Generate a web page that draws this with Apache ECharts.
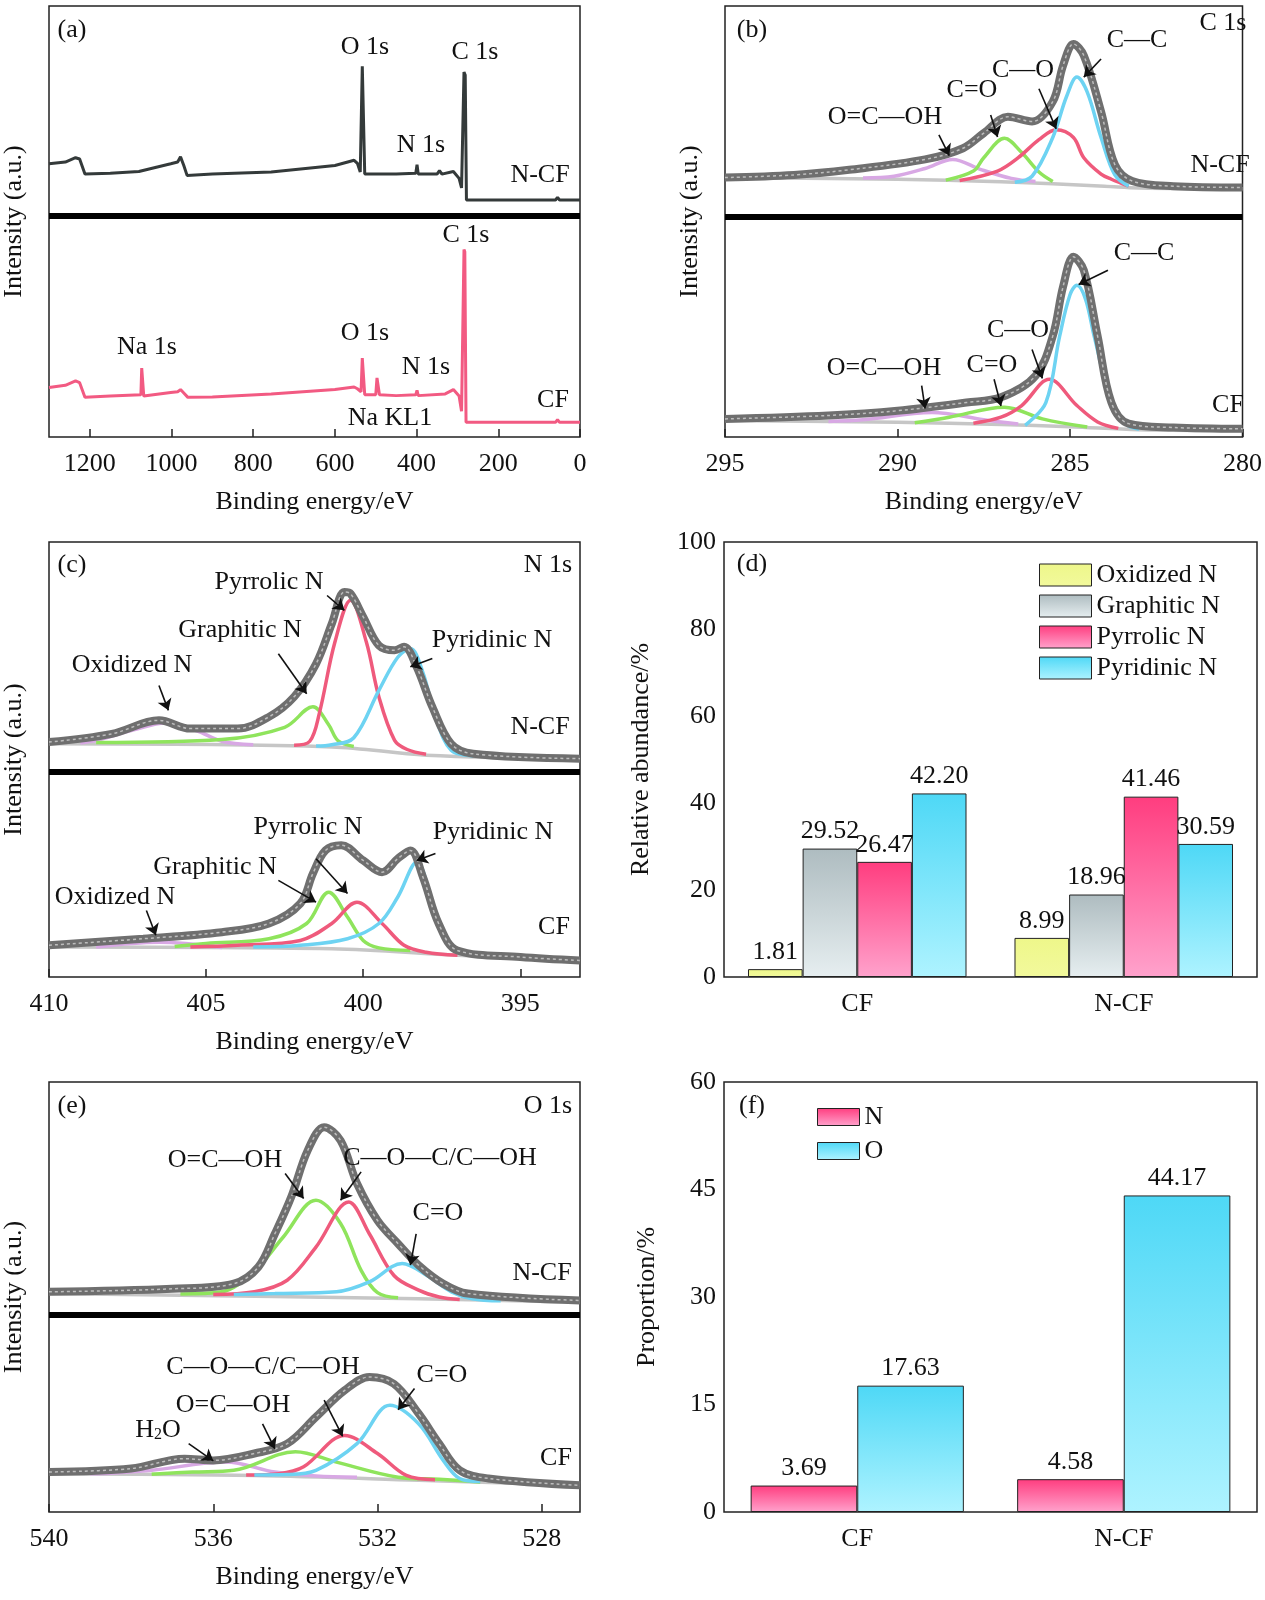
<!DOCTYPE html>
<html>
<head>
<meta charset="utf-8">
<script src="https://cdn.jsdelivr.net/npm/echarts@6/dist/echarts.min.js"></script>
<style>html,body{margin:0;padding:0;background:#fff}#main{width:1265px;height:1600px}</style>
</head>
<body>
<div id="main"></div>
<script>
// ---- (a) survey spectra, [binding energy, relative intensity] ----
var surveyNCF = [[1300,63.4],[1260,63.8],[1235,64.8],[1225,64.5],[1212,61],[1150,61.2],[1080,61.6],[1002,63.4],[985,63.8],[978,65],[970,63],[962,60.7],[900,61],[756,61.5],[600,63],[553,64.2],[545,63.5],[538,61.5],[533,86],[530,86],[527,61],[450,61],[402,61.2],[399,63.2],[396,61],[350,61],[344,61.8],[338,61],[310,61.6],[296,60],[290,57.8],[286,58],[284,84.7],[281,84],[278,55],[200,55],[60,55],[55,55.6],[50,55],[0,55]];
var surveyCF = [[1300,11.5],[1260,12],[1235,13],[1225,12.6],[1212,9.2],[1150,9.5],[1075,9.8],[1073,16],[1070,16],[1068,9.5],[1002,10.3],[985,10.5],[978,11],[970,10.2],[960,9.2],[900,9.3],[756,10],[600,11],[553,11.6],[545,11.2],[536,10.5],[533,18.3],[530,18.3],[527,9.8],[500,9.8],[497,13.7],[494,13.7],[491,9.8],[450,9.6],[402,9.8],[399,10.8],[396,9.6],[330,10],[310,11],[296,9.5],[290,6],[286,6.2],[284,43.5],[282,43],[279,3.4],[200,3.4],[60,3.4],[55,4],[50,3.4],[0,3.4]];

// ---- (b) C 1s ----
var c1sEnvNCF = [[295,60.2],[293,60.8],[291.4,62],[289.2,64.4],[288.1,67],[287.5,70.5],[286.8,74.3],[286.1,73.2],[285.5,77.8],[285.2,86.2],[284.9,91.2],[284.6,88.5],[284.1,75.5],[283.7,63.2],[283.2,59.4],[282,58.2],[280,57.9]];
var c1sBgNCF = [[295,60.2],[290,59.8],[287,59.2],[284,58.2],[283,57.8],[280,57.6]];
var c1sCCNCF = [[286.6,59.1],[286.1,60.5],[285.5,69.5],[285.1,79],[284.8,83.5],[284.5,80],[284.1,69.5],[283.7,60.8],[283.3,58.2]];
var c1sCONCF = [[288.2,59.5],[287.1,61.7],[286.5,64.8],[285.9,69],[285.4,71.3],[284.9,69.5],[284.6,64.8],[284.1,61],[283.8,59.8],[283.3,58.2]];
var c1sCdONCF = [[288.6,59.6],[287.8,61.7],[287.5,64.8],[286.9,69.3],[286.4,66],[285.9,61.5],[285.5,59.3]];
var c1sOCOHNCF = [[291,60.1],[290.1,60.5],[289.2,62.3],[288.4,64.4],[287.6,62.1],[286.7,60],[286,59.3]];
var c1sEnvCF = [[295,4.2],[292,5],[290,6.1],[288,8],[287,9.2],[286,14.2],[285.5,23.4],[285.2,34.9],[284.9,41.8],[284.6,38.7],[284.2,23.4],[283.8,8],[283.3,3.1],[282,2.2],[280,1.9]];
var c1sBgCF = [[295,3.8],[290,3.4],[287,2.9],[285,2.4],[283,1.7],[280,1.5]];
var c1sCCCF = [[286.3,2.7],[285.7,8],[285.3,23.4],[285.0,33],[284.8,35.2],[284.55,32],[284.3,23.4],[283.8,8],[283.4,3.1],[283,1.8]];
var c1sCOCF = [[287.8,3.2],[287,4.6],[286.4,7.3],[285.6,13.4],[284.8,7.3],[284.2,3.5],[283.6,2]];
var c1sCdOCF = [[289.5,3.3],[288.5,4.6],[286.9,6.9],[285.8,4.2],[284.5,2.3]];
var c1sOCOHCF = [[292,3.6],[291,4],[289,5.7],[287.5,4],[286.5,3]];

// ---- (c) N 1s ----
var n1sEnvNCF = [[410,54],[408,55.9],[406.5,59],[405.5,57.1],[404,57.1],[403,59.8],[402.2,64.4],[401.5,72],[401,81.2],[400.6,88.5],[400.4,88.1],[400,82.8],[399.5,76.2],[399,75.1],[398.7,75.9],[398.3,71.3],[397.8,62.1],[397.2,53.6],[396.5,51.3],[393.1,50.2]];
var n1sBgNCF = [[410,53.6],[401,52.9],[398,51],[393.1,50.2]];
var n1sOxNCF = [[409,53.8],[408.5,54.4],[407.3,56.8],[406.3,58.4],[405.3,56.6],[404.5,54.2],[403.5,53.4]];
var n1sGrNCF = [[408.5,53.9],[404.5,54.6],[402.5,57.4],[401.6,62.1],[401.1,58],[400.8,54.3],[400.3,53]];
var n1sPyrNCF = [[402.2,53.3],[401.7,54.2],[401.4,60.5],[400.9,77],[400.4,86.6],[399.9,77],[399.5,64.4],[399,54.4],[398.6,52.3],[398,51.2]];
var n1sPydNCF = [[401.5,53.1],[401,53.4],[400.3,55],[399.5,65.9],[398.9,73.5],[398.5,75.5],[398.1,70],[397.7,59.8],[397.2,52.1],[396.5,50.8]];
var n1sEnvCF = [[410,7.3],[407,8.8],[404.5,10.3],[403,12.3],[402,16.9],[401.6,23.8],[401.2,29.1],[400.7,30.3],[400,26.8],[399.4,24.1],[398.9,27.2],[398.5,29.1],[398.1,23],[397.6,12.3],[397,6.1],[395,4.6],[393.1,3.8]];
var n1sBgCF = [[410,6.9],[401,6.5],[397,5],[393.1,3.8]];
var n1sOxCF = [[408.5,6.9],[406.5,8],[404.5,6.8]];
var n1sGrCF = [[406,7],[405,7.7],[403,8.8],[401.8,12.3],[401.1,19.5],[400.5,13.8],[400,8.4],[399.5,6.7],[398.5,6.1]];
var n1sPyrCF = [[405.5,6.9],[404,7.3],[402,8.4],[401,12.3],[400.2,17.2],[399.4,12.3],[398.7,7.3],[398,5.7],[397,5]];
var n1sPydCF = [[403.5,6.9],[402,7.3],[400.5,8.8],[399.5,12.3],[398.9,18.4],[398.3,26.4],[397.7,14.6],[397.2,6.9],[396.7,5.2]];

// ---- (e) O 1s ----
var o1sEnvNCF = [[540,51.2],[537,51.9],[535.5,53.1],[534.9,57],[534.5,64.7],[534.1,73.3],[533.7,84.1],[533.3,89.5],[532.9,86.4],[532.5,76.4],[532,67.8],[531.5,62.4],[531,57.4],[530.4,53.1],[529.8,50.8],[527.07,49.2]];
var o1sBgNCF = [[540,50.8],[531,49.6],[527.07,48.8]];
var o1sOCOHNCF = [[536.8,50.7],[535.8,51.2],[535,56],[534.3,63.9],[533.5,72.5],[532.9,67.1],[532.4,56.2],[532,51],[531.5,49.8]];
var o1sCOCNCF = [[536,50.6],[535,51.2],[534.2,53.9],[533.5,61.6],[532.7,72.1],[532.2,64.7],[531.6,55.0],[531,51.6],[530.5,50],[530,49.4]];
var o1sCdONCF = [[535.5,50.6],[534.5,50.8],[533,51.2],[532.2,53.5],[531.4,57.8],[530.8,55],[530.2,51.2],[529.7,49.6],[529,49.1]];
var o1sEnvCF = [[540,9.3],[538,10.1],[536.7,12.4],[536,12],[535,13.6],[534.2,15.9],[533.5,22.1],[532.8,28.3],[532.2,31.4],[531.6,29.8],[531,22.9],[530.5,15.9],[530,9.7],[529.3,7.8],[527.07,6.2]];
var o1sBgCF = [[540,8.9],[535,8.5],[531,7.4],[527.07,6.2]];
var o1sH2OCF = [[539,8.9],[538.5,9],[537.5,9.7],[535.7,11.6],[534.5,9.3],[533.5,8.4],[532.5,8.1]];
var o1sOCOHCF = [[537.5,8.8],[536.5,9.3],[535.5,9.7],[534,14],[533,11.6],[531.5,8.1],[530.5,7.6],[529.5,7]];
var o1sCOCCF = [[535.2,8.6],[534.4,8.9],[533.8,10.5],[532.8,17.8],[532,13.6],[531.3,8.5],[530.6,7.5]];
var o1sCdOCF = [[535,8.6],[534.2,8.7],[533.5,9.7],[532.5,15.9],[531.7,24.8],[531,20.5],[530.4,12.0],[530,7.8],[529.5,7.1]];

// ---- (d) N species, (f) N/O proportion ----
var samples = ['CF', 'N-CF'];
var oxidizedN = [1.81, 8.99];
var graphiticN = [29.52, 18.96];
var pyrrolicN = [26.47, 41.46];
var pyridinicN = [42.20, 30.59];
var propN = [3.69, 4.58];
var propO = [17.63, 44.17];

var FONT = 'Liberation Serif';
var FS = 26;
var cEnv = '#7a7a7a', cBg = '#c6c6c6', cCyan = '#6dd3f2', cPink = '#ef5a7c', cGreen = '#8fe45c', cViolet = '#d8a8e4';

function grad(top, bottom) {
    return new echarts.graphic.LinearGradient(0, 0, 0, 1, [{offset: 0, color: top}, {offset: 1, color: bottom}]);
}

var grids = [
    {left: 48, top: 6, width: 532, height: 431},
    {left: 725, top: 6, width: 532, height: 431},
    {left: 48, top: 542, width: 532, height: 435},
    {left: 724, top: 542, width: 533, height: 435},
    {left: 48, top: 1082, width: 532, height: 430},
    {left: 724, top: 1082, width: 533, height: 430}
];
grids.forEach(function (g) { g.show = true; g.borderColor = '#222'; g.borderWidth = 1.5; g.backgroundColor = 'transparent'; });

var axisTxt = {color: '#111', fontFamily: FONT, fontSize: FS};
function plain(v) { return String(v); }
function specX(idx, min, max, vals, interval) {
    var ax = {
        gridIndex: idx, type: 'value', inverse: true, min: min, max: max,
        name: 'Binding energy/eV', nameLocation: 'middle', nameGap: 52, nameTextStyle: axisTxt,
        axisLine: {show: false}, splitLine: {show: false},
        axisTick: {inside: true, length: 8, lineStyle: {color: '#222', width: 1.5}},
        axisLabel: {color: '#111', fontFamily: FONT, fontSize: FS, margin: 14, formatter: plain, showMaxLabel: false}
    };
    if (interval) { ax.interval = interval; }
    if (vals) { ax.axisTick.customValues = vals; ax.axisLabel.customValues = vals; delete ax.axisLabel.showMaxLabel; }
    return ax;
}
function specY(idx) {
    return {
        gridIndex: idx, type: 'value', min: 0, max: 100,
        name: 'Intensity (a.u.)', nameLocation: 'middle', nameGap: 22, nameTextStyle: axisTxt,
        axisLine: {show: false}, axisTick: {show: false}, axisLabel: {show: false}, splitLine: {show: false}
    };
}
function barX(idx) {
    return {
        gridIndex: idx, type: 'category', data: samples,
        axisLine: {show: false}, axisTick: {show: false}, splitLine: {show: false},
        axisLabel: {color: '#111', fontFamily: FONT, fontSize: FS, margin: 14}
    };
}
function barY(idx, max, interval, name, gap) {
    return {
        gridIndex: idx, type: 'value', min: 0, max: max, interval: interval,
        name: name, nameLocation: 'middle', nameGap: gap, nameTextStyle: axisTxt,
        axisLine: {show: false}, splitLine: {show: false},
        axisTick: {inside: true, length: 8, lineStyle: {color: '#222', width: 1.5}},
        axisLabel: {color: '#111', fontFamily: FONT, fontSize: FS, margin: 8}
    };
}

var series = [];
function line(idx, data, color, width, smooth) {
    var s = {
        type: 'line', xAxisIndex: idx, yAxisIndex: idx, data: data, showSymbol: false,
        smooth: smooth === undefined ? 0.35 : smooth, silent: true,
        lineStyle: {color: color, width: width}, z: 3
    };
    series.push(s);
    return s;
}
function env(idx, data) {
    // measured points: thick grey band with a light core
    line(idx, data, '#6f6f6f', 8);
    line(idx, data, '#bdbdbd', 1.5).lineStyle.type = [3, 3];
}
function arrows(idx, list, sep) {
    var d = list.map(function (a) { return [{coord: [a[0], a[1]]}, {coord: [a[2], a[3]]}]; });
    series.push({
        type: 'line', xAxisIndex: idx, yAxisIndex: idx, data: [], silent: true,
        markLine: {
            silent: true, animation: false, symbol: ['none', 'arrow'], symbolSize: 11,
            label: {show: false}, lineStyle: {color: '#111', width: 1.6, type: 'solid'}, data: d
        }
    });
    series.push({
        type: 'line', xAxisIndex: idx, yAxisIndex: idx, data: [], silent: true,
        markLine: {
            silent: true, animation: false, symbol: 'none', label: {show: false},
            lineStyle: {color: '#000', width: 6, type: 'solid'}, data: [{yAxis: sep}]
        }
    });
}
function comps(idx, list) {
    list.forEach(function (p) {
        if (p[1] === cEnv) { env(idx, p[0]); } else { line(idx, p[0], p[1], 3.5); }
    });
}

// (a)
line(0, surveyNCF, '#343a3a', 3, false);
line(0, surveyCF, '#f25a82', 3, false);
arrows(0, [], 51.3);

// (b)
comps(1, [[c1sBgNCF, cBg], [c1sOCOHNCF, cViolet], [c1sCdONCF, cGreen], [c1sCONCF, cPink], [c1sCCNCF, cCyan], [c1sEnvNCF, cEnv],
 [c1sBgCF, cBg], [c1sOCOHCF, cViolet], [c1sCdOCF, cGreen], [c1sCOCF, cPink], [c1sCCCF, cCyan], [c1sEnvCF, cEnv]]);
arrows(1, [[284.1, 87.7, 284.6, 83.5], [285.9, 80.8, 285.4, 71.5], [287.3, 74.7, 287.1, 69.6], [288.8, 70.1, 288.5, 65.3],
           [283.9, 38.7, 284.75, 35.4], [286.1, 20.3, 285.8, 13.6], [287.2, 13.4, 287.0, 7.2], [289.3, 11.9, 289.2, 6.6]], 51);

// (c)
comps(2, [[n1sBgNCF, cBg], [n1sOxNCF, cViolet], [n1sGrNCF, cGreen], [n1sPyrNCF, cPink], [n1sPydNCF, cCyan], [n1sEnvNCF, cEnv],
 [n1sBgCF, cBg], [n1sOxCF, cViolet], [n1sGrCF, cGreen], [n1sPyrCF, cPink], [n1sPydCF, cCyan], [n1sEnvCF, cEnv]]);
arrows(2, [[401.15, 87.7, 400.6, 84.3], [402.7, 74.3, 401.8, 65.1], [406.5, 67.0, 406.2, 61.3], [397.8, 73.2, 398.5, 71.3],
           [402.7, 22.2, 401.5, 17.2], [401.5, 27.2, 400.5, 19.2], [406.9, 15.3, 406.6, 9.6], [397.7, 28.4, 398.3, 26.8]], 47.1);

// (e)
comps(4, [[o1sBgNCF, cBg], [o1sOCOHNCF, cGreen], [o1sCOCNCF, cPink], [o1sCdONCF, cCyan], [o1sEnvNCF, cEnv],
 [o1sBgCF, cBg], [o1sH2OCF, cViolet], [o1sOCOHCF, cGreen], [o1sCOCCF, cPink], [o1sCdOCF, cCyan], [o1sEnvCF, cEnv]]);
arrows(4, [[534.25, 78.7, 533.8, 72.9], [532.4, 79.1, 532.9, 72.5], [531.06, 64.7, 531.2, 57.4],
           [533.3, 26.0, 532.85, 17.6], [531.1, 28.7, 531.5, 23.8], [534.8, 20.5, 534.5, 14.7], [536.6, 15.9, 536.0, 11.9]], 45.9);

// bars
var barLabel = {show: true, position: 'top', distance: 4, color: '#111', fontFamily: FONT, fontSize: FS,
    formatter: function (p) { return p.value.toFixed(2); }};
function bar(idx, name, data, color, gap) {
    series.push({
        type: 'bar', name: name, xAxisIndex: idx, yAxisIndex: idx, data: data,
        barGap: '0%', barCategoryGap: gap, label: barLabel,
        itemStyle: {color: color, borderColor: '#222', borderWidth: 1}
    });
}
bar(3, 'Oxidized N', oxidizedN, grad('#eef78a', '#f2f99c'), '18%');
bar(3, 'Graphitic N', graphiticN, grad('#aebcc0', '#e6eef0'), '18%');
bar(3, 'Pyrrolic N', pyrrolicN, grad('#ff3d7f', '#ffa2cc'), '18%');
bar(3, 'Pyridinic N', pyridinicN, grad('#4ed8f6', '#aef3ff'), '18%');
bar(5, 'N', propN, grad('#ff3d7f', '#ffa2cc'), '20%');
bar(5, 'O', propO, grad('#4ed8f6', '#aef3ff'), '20%');

// panel text
var texts = [
    [72, 30, '(a)'], [365, 47, 'O 1s'], [475, 52, 'C 1s'], [421, 145, 'N 1s'], [540, 175, 'N-CF'],
    [466, 235, 'C 1s'], [147, 347, 'Na 1s'], [365, 333, 'O 1s'], [426, 367, 'N 1s'], [553, 400, 'CF'], [390, 418, 'Na KL1'],
    [752, 30, '(b)'], [1223, 23, 'C 1s'], [1137, 40, 'C\u2014C'], [1023, 70, 'C\u2014O'], [972, 90, 'C=O'], [885, 117, 'O=C\u2014OH'],
    [1220, 165, 'N-CF'], [1144, 253, 'C\u2014C'], [1018, 330, 'C\u2014O'], [992, 365, 'C=O'], [884, 368, 'O=C\u2014OH'], [1228, 405, 'CF'],
    [72, 565, '(c)'], [548, 565, 'N 1s'], [269, 582, 'Pyrrolic N'], [240, 630, 'Graphitic N'], [132, 665, 'Oxidized N'],
    [492, 640, 'Pyridinic N'], [540, 727, 'N-CF'], [308, 827, 'Pyrrolic N'], [493, 832, 'Pyridinic N'], [215, 867, 'Graphitic N'],
    [115, 897, 'Oxidized N'], [554, 927, 'CF'],
    [752, 564, '(d)'],
    [72, 1106, '(e)'], [548, 1106, 'O 1s'], [225, 1160, 'O=C\u2014OH'], [440, 1158, 'C\u2014O\u2014C/C\u2014OH'], [438, 1213, 'C=O'],
    [542, 1273, 'N-CF'], [263, 1367, 'C\u2014O\u2014C/C\u2014OH'], [442, 1375, 'C=O'], [233, 1405, 'O=C\u2014OH'], [556, 1458, 'CF'],
    [752, 1106, '(f)']
];
var graphic = texts.map(function (t) {
    return {type: 'text', x: t[0], y: t[1], z: 10, silent: true,
        style: {text: t[2], fontFamily: FONT, fontSize: FS, fill: '#111', align: 'center', verticalAlign: 'middle'}};
});
graphic.push({type: 'text', x: 158, y: 1430, z: 10, silent: true,
    style: {text: '{a|H}{b|2}{a|O}', align: 'center', verticalAlign: 'middle',
        rich: {a: {fontFamily: FONT, fontSize: FS, fill: '#111'}, b: {fontFamily: FONT, fontSize: 16, fill: '#111', verticalAlign: 'bottom', padding: [10, 0, 0, 0]}}}});

var legendTxt = {color: '#111', fontFamily: FONT, fontSize: FS};
var myChart = echarts.init(document.getElementById('main'), null, {renderer: 'canvas'});
myChart.setOption({
    animation: false,
    backgroundColor: '#fff',
    grid: grids,
    xAxis: [specX(0, 0, 1300, null, 200), specX(1, 280, 295, [280, 285, 290, 295]), specX(2, 393.1, 410, [395, 400, 405, 410]),
            barX(3), specX(4, 527.07, 540, [528, 532, 536, 540]), barX(5)],
    yAxis: [specY(0), specY(1), specY(2), barY(3, 100, 20, 'Relative abundance/%', 70), specY(4), barY(5, 60, 15, 'Proportion/%', 64)],
    legend: [
        {orient: 'vertical', left: 1034, top: 557, itemWidth: 52, itemHeight: 22, itemGap: 5, icon: 'rect', textStyle: legendTxt,
         data: ['Oxidized N', 'Graphitic N', 'Pyrrolic N', 'Pyridinic N'], selectedMode: false,
         itemStyle: {borderColor: '#222', borderWidth: 1}},
        {orient: 'vertical', left: 812, top: 1099, itemWidth: 42, itemHeight: 17, itemGap: 8, icon: 'rect', textStyle: legendTxt,
         data: ['N', 'O'], selectedMode: false, itemStyle: {borderColor: '#222', borderWidth: 1}}
    ],
    graphic: graphic,
    series: series
});
</script>
</body>
</html>
